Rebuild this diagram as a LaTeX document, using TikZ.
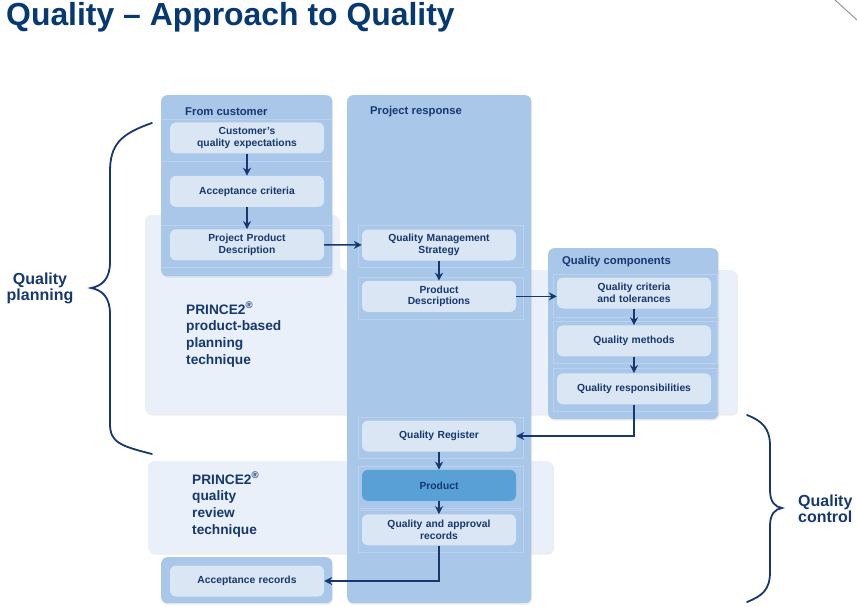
\documentclass[tikz,border=0pt]{standalone}
\usepackage{fontspec}
\setmainfont{Liberation Sans}
\usetikzlibrary{arrows.meta, positioning, shadows}
\definecolor{qnavy}{RGB}{22,56,110}
\definecolor{qtitle}{RGB}{6,56,116}
\definecolor{qpanel}{RGB}{168,199,233}
\definecolor{qlight}{RGB}{233,240,249}
\definecolor{qitem}{RGB}{218,230,243}
\definecolor{qproduct}{RGB}{88,160,214}
\definecolor{qframe}{RGB}{186,210,238}
\definecolor{qgray}{RGB}{150,150,150}
\tikzset{
  panel/.style={rectangle, fill=qpanel, rounded corners=6pt, anchor=north west,
    inner sep=0pt, drop shadow={opacity=0.15, shadow xshift=1pt, shadow yshift=-1.5pt}},
  lightpanel/.style={fill=qlight, rounded corners=6pt,
    drop shadow={opacity=0.15, shadow xshift=1pt, shadow yshift=-1.5pt}},
  item/.style={rectangle, fill=qitem, rounded corners=6pt, text=qnavy,
    minimum width=154, minimum height=31, text width=150, align=center, inner sep=1pt,
    font=\bfseries\fontsize{10.3}{11.6}\selectfont},
  productitem/.style={item, fill=qproduct},
  heading/.style={anchor=west, text=qnavy, inner sep=0pt,
    font=\bfseries\fontsize{11.3}{13}\selectfont},
  technique/.style={anchor=north west, align=left, text=qnavy, inner sep=0pt,
    font=\bfseries\fontsize{13.7}{16.7}\selectfont},
  sidelabel/.style={text=qnavy, inner sep=0pt,
    font=\bfseries\fontsize{16}{16}\selectfont},
  frame/.style={draw=qframe, line width=0.5pt},
  arrow/.style={-{Stealth[length=8pt, width=8pt]}, line width=1.5pt, color=qnavy},
  brace/.style={draw=qnavy, line width=1.8pt, line cap=round}
}

\begin{document}
\begin{tikzpicture}[x=1pt, y=-1pt, node distance=22pt]
  \useasboundingbox (0,0) rectangle (857,607);
  \node[anchor=base west, inner sep=0pt, text=qtitle,
    font=\bfseries\fontsize{31.9}{36}\selectfont] (title) at (6,26) {Quality -- Approach to Quality};
  \draw[qgray, line width=1pt] (835,0) -- (857,20);

  % background panels
  \fill[lightpanel] (145,215) -- (339,215) -- (339,270) -- (737,270) -- (737,414) -- (145,414) -- cycle;
  \fill[lightpanel] (148,461) rectangle (553,553);
  \node[panel, minimum width=171, minimum height=181] (custpanel) at (161,95) {};
  \node[panel, minimum width=184, minimum height=508] (resppanel) at (347,95) {};
  \node[panel, minimum width=170, minimum height=171] (comppanel) at (548,248) {};
  \node[panel, minimum width=171, minimum height=46] (recpanel) at (161,557) {};

  % row frames
  \foreach \y in {119,161,225,267}
    \draw[frame] (161,\y) -- (332,\y);
  \foreach \t/\b in {225/267, 277/319, 417/458, 466/508, 510/552}
    \draw[frame] (358,\t) rectangle (523,\b);
  \foreach \t/\b in {274/317, 321/363, 368/411}
    \draw[frame] (553,\t) rectangle (717,\b);

  \node[heading] (custhead) at (185,112) {From customer};
  \node[heading] (resphead) at (370,112) {Project response};
  \node[heading] (comphead) at (562,262) {Quality components};

  % from customer
  \node[item] (custexp) at (247,138) {Customer's\\quality expectations};
  \node[item, below=of custexp] (acccrit) {Acceptance criteria};
  \node[item, below=of acccrit] (ppd) {Project Product\\Description};

  % project response
  \node[item] (qms) at (439,245) {Quality Management\\Strategy};
  \node[item, below=20pt of qms] (proddesc) {Product\\Descriptions};
  \node[item] (qreg) at (439,436) {Quality Register};
  \node[productitem, below=18pt of qreg] (product) {Product};
  \node[item, below=13pt of product] (qarec) {Quality and approval\\records};

  % quality components
  \node[item] (qcrit) at (634,293) {Quality criteria\\and tolerances};
  \node[item, below=16.5pt of qcrit] (qmeth) {Quality methods};
  \node[item, below=16.5pt of qmeth] (qresp) {Quality responsibilities};

  \node[item] (accrec) at (247,581) {Acceptance records};

  \node[technique] (pbp) at (186,302) {PRINCE2\textsuperscript{\textregistered}\\product-based\\planning\\technique};
  \node[technique] (qrt) at (192,472) {PRINCE2\textsuperscript{\textregistered}\\quality\\review\\technique};

  % connectors
  \draw[arrow] (custexp) -- (acccrit);
  \draw[arrow] (acccrit) -- (ppd);
  \draw[arrow] (ppd) -- (qms);
  \draw[arrow] (qms) -- (proddesc);
  \draw[arrow] (proddesc.east) -- (proddesc.east -| qcrit.west);
  \draw[arrow] (qcrit) -- (qmeth);
  \draw[arrow] (qmeth) -- (qresp);
  \draw[arrow] (qresp.south) -- (qresp.south |- qreg.east) -- (qreg.east);
  \draw[arrow] (qreg) -- (product);
  \draw[arrow] (product) -- (qarec);
  \draw[arrow] (qarec.south) |- (accrec.east);

  % braces
  \draw[brace] (152,123) .. controls (120,134) and (110,145) .. (110,172) -- (110,262)
    .. controls (110,279) and (102,286) .. (91,288) .. controls (102,290) and (110,297) .. (110,314)
    -- (110,424) .. controls (110,442) and (120,446) .. (152,454);
  \draw[brace] (747,415) .. controls (762,421) and (770,428) .. (770,446) -- (770,490)
    .. controls (770,502) and (775,507) .. (782,508) .. controls (775,509) and (770,514) .. (770,526)
    -- (770,572) .. controls (770,590) and (762,596) .. (747,602);
  \node[sidelabel, align=center] (qplan) at (40,288) {Quality\\planning};
  \node[sidelabel, align=left, anchor=west] (qctrl) at (798,509) {Quality\\control};
\end{tikzpicture}
\end{document}
